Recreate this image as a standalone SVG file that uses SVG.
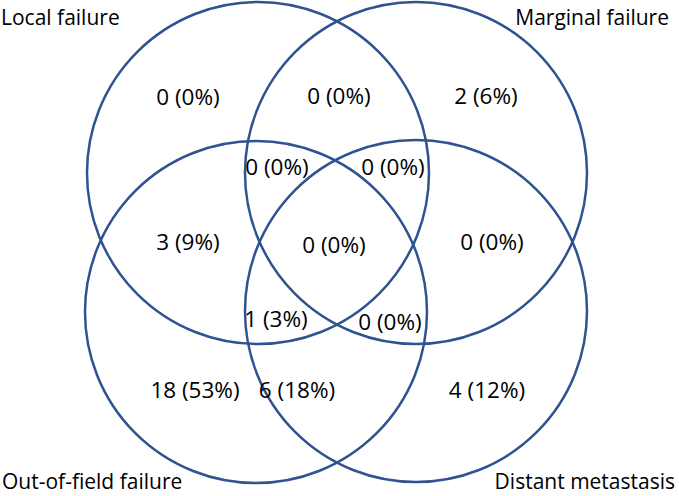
<svg xmlns="http://www.w3.org/2000/svg" width="679" height="496" viewBox="0 0 679 496">
<style>
.c{fill:none;stroke:#2f5290;stroke-width:2.5}
.t{font-family:"Open Sans","Liberation Sans",sans-serif;fill:#000}
.lbl{font-size:21px}
.n{font-size:22.5px;text-anchor:middle}
</style>
<rect width="679" height="496" fill="#fff"/>
<g id="connectors"></g>
<g id="local"><circle class="c" cx="258" cy="173" r="171"/><text class="t lbl" x="1" y="25">Local failure</text></g>
<g id="marginal"><circle class="c" cx="416" cy="173" r="171"/><text class="t lbl" x="669" y="25" text-anchor="end">Marginal failure</text></g>
<g id="outoffield"><circle class="c" cx="256" cy="312" r="171"/><text class="t lbl" x="2" y="489">Out-of-field failure</text></g>
<g id="distant"><circle class="c" cx="416" cy="311" r="171"/><text class="t lbl" x="675" y="489" text-anchor="end">Distant metastasis</text></g>
<g id="counts">
<text class="t n" x="188" y="105">0 (0%)</text>
<text class="t n" x="339" y="104">0 (0%)</text>
<text class="t n" x="486" y="104">2 (6%)</text>
<text class="t n" x="277" y="175">0 (0%)</text>
<text class="t n" x="393" y="175">0 (0%)</text>
<text class="t n" x="188" y="250">3 (9%)</text>
<text class="t n" x="334" y="253">0 (0%)</text>
<text class="t n" x="492" y="250">0 (0%)</text>
<text class="t n" x="276" y="327">1 (3%)</text>
<text class="t n" x="390" y="330">0 (0%)</text>
<text class="t n" x="195" y="398">18 (53%)</text>
<text class="t n" x="297" y="398">6 (18%)</text>
<text class="t n" x="487" y="398">4 (12%)</text>
</g>
</svg>
